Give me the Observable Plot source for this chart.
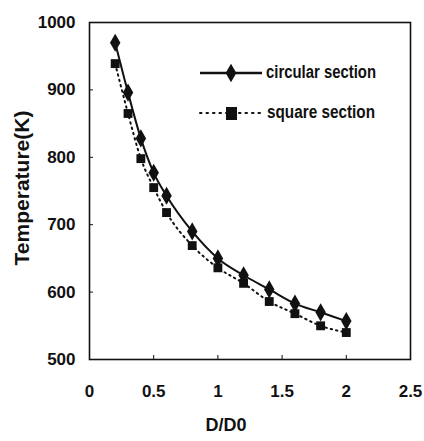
<!DOCTYPE html>
<html>
<head>
<meta charset="utf-8">
<script src="https://cdn.jsdelivr.net/npm/d3@7"></script>
<script src="https://cdn.jsdelivr.net/npm/@observablehq/plot@0.6"></script>
<style>
  html, body { margin: 0; padding: 0; background: #fff; }
  #chart { position: relative; width: 424px; height: 441px; }
</style>
</head>
<body>
<div id="chart"></div>
<script>
const ratios = [0.2, 0.3, 0.4, 0.5, 0.6, 0.8, 1.0, 1.2, 1.4, 1.6, 1.8, 2.0];
const circular = [970, 896, 828, 777, 743, 690, 650, 625, 604, 583, 570, 557];
const square = [939, 865, 798, 755, 718, 669, 636, 613, 586, 568, 550, 540];
const xTicks = [0, 0.5, 1, 1.5, 2, 2.5];
const yTicks = [500, 600, 700, 800, 900, 1000];
const seriesNames = ["circular section", "square section"];

const circData = ratios.map((x, i) => ({x, y: circular[i]}));
const sqData = ratios.map((x, i) => ({x, y: square[i]}));

const font = "'Liberation Sans', Arial, sans-serif";

const plot = Plot.plot({
  width: 424,
  height: 441,
  marginLeft: 89,
  marginRight: 14,
  marginTop: 22,
  marginBottom: 82,
  style: {fontFamily: font, fontSize: "16px", color: "#111", background: "#fff"},
  x: {domain: [0, 2.5]},
  y: {domain: [500, 1000]},
  marks: [
    Plot.frame({stroke: "#111", strokeWidth: 1.6}),
    Plot.axisX({ticks: xTicks, tickSize: 4, dy: -4, text: null, stroke: "#111", label: null}),
    Plot.axisX({ticks: xTicks, tickSize: 0, tickPadding: 25, tickFormat: d => String(d), fontSize: 17, fill: "#111", label: null}),
    Plot.axisY({ticks: yTicks, tickSize: 4, dx: 4, text: null, stroke: "#111", label: null}),
    Plot.axisY({ticks: yTicks, tickSize: 0, tickPadding: 14, tickFormat: d => String(d), fontSize: 17, fill: "#111", label: null}),
    Plot.line(sqData, {x: "x", y: "y", curve: "monotone-x", stroke: "#111", strokeWidth: 2, strokeDasharray: "1.5,4", strokeLinecap: "round"}),
    Plot.line(circData, {x: "x", y: "y", curve: "monotone-x", stroke: "#111", strokeWidth: 2}),
    Plot.dot(sqData, {x: "x", y: "y", symbol: "square", r: 5, fill: "#111", stroke: "none"}),
    Plot.dot(circData, {x: "x", y: "y", symbol: "diamond", r: 5.5, fill: "#111", stroke: "none"})
  ]
});

const svg = d3.select(plot);
svg.selectAll("g[aria-label='x-axis tick label'] text, g[aria-label='y-axis tick label'] text")
  .style("font-weight", "bold");

// axis titles
svg.append("text")
  .attr("transform", "translate(23,188) rotate(-90)")
  .attr("text-anchor", "middle")
  .attr("dominant-baseline", "middle")
  .style("font-family", font).style("font-size", "21px").style("font-weight", "bold").attr("fill", "#111")
  .text("Temperature(K)");
svg.append("text")
  .attr("x", 226).attr("y", 426)
  .attr("text-anchor", "middle")
  .attr("dominant-baseline", "middle")
  .style("font-family", font).style("font-size", "18px").style("font-weight", "bold").attr("fill", "#111")
  .text("D/D0");

// legend
const lg = svg.append("g").attr("transform", "translate(200,73)");
lg.append("line").attr("x1", 0).attr("x2", 62).attr("y1", 0).attr("y2", 0).attr("stroke", "#111").attr("stroke-width", 2.5);
lg.append("path").attr("d", d3.symbol(d3.symbolDiamond, 100)()).attr("transform", "translate(31,0)").attr("fill", "#111");
lg.append("text").attr("x", 66).attr("y", 0).attr("dominant-baseline", "middle").attr("text-anchor", "start")
  .attr("textLength", 110).attr("lengthAdjust", "spacingAndGlyphs")
  .style("font-family", font).style("font-size", "18px").style("font-weight", "bold").attr("fill", "#111")
  .text(seriesNames[0]);
const lg2 = svg.append("g").attr("transform", "translate(200,113)");
lg2.append("line").attr("x1", 0).attr("x2", 62).attr("y1", 0).attr("y2", 0).attr("stroke", "#111").attr("stroke-width", 2)
  .attr("stroke-dasharray", "1.5,5").attr("stroke-linecap", "round");
lg2.append("rect").attr("x", 26).attr("y", -6).attr("width", 11).attr("height", 13).attr("fill", "#111");
lg2.append("text").attr("x", 67).attr("y", 0).attr("dominant-baseline", "middle").attr("text-anchor", "start")
  .attr("textLength", 108).attr("lengthAdjust", "spacingAndGlyphs")
  .style("font-family", font).style("font-size", "18px").style("font-weight", "bold").attr("fill", "#111")
  .text(seriesNames[1]);

document.getElementById("chart").appendChild(plot);
</script>
</body>
</html>
